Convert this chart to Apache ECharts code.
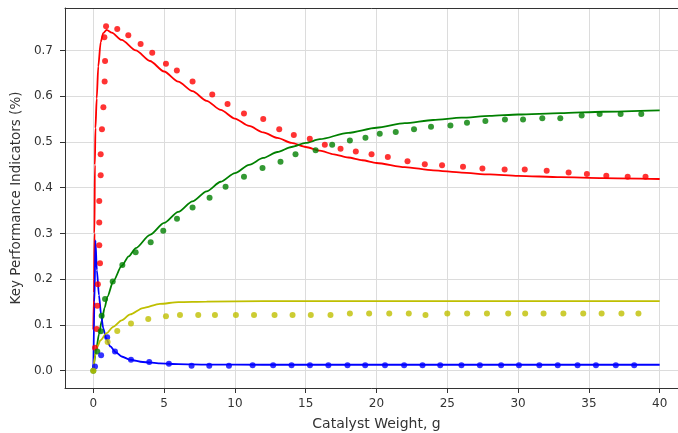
<!DOCTYPE html>
<html>
<head>
<meta charset="utf-8">
<script src="https://cdn.jsdelivr.net/npm/echarts@6/dist/echarts.min.js"></script>
<style>html,body{margin:0;padding:0;background:#fff;}#c{width:678px;height:433px;}</style>
</head>
<body>
<div id="c"></div>
<script>
const xTicks = [0, 5, 10, 15, 20, 25, 30, 35, 40];
const yTicks = [0.0, 0.1, 0.2, 0.3, 0.4, 0.5, 0.6, 0.7];

// Model curves [x, y]
const redLine = [[0,0.09],[0.05,0.17],[0.08,0.3],[0.11,0.45],[0.15,0.53],[0.24,0.595],[0.35,0.665],[0.52,0.718],[0.7,0.738],[0.94,0.745],[1.3,0.739],[2,0.723],[3,0.7],[4,0.677],[5,0.654],[6,0.632],[7,0.611],[8,0.59],[9,0.57],[10,0.551],[11,0.535],[12,0.521],[13,0.509],[14,0.498],[15,0.489],[16,0.481],[17,0.473],[18,0.466],[19,0.46],[20,0.454],[22,0.445],[24,0.438],[26,0.433],[28,0.429],[30,0.426],[33,0.423],[36,0.421],[40,0.419]];
const greenLine = [[0,0],[0.2,0.045],[0.4,0.08],[0.6,0.11],[0.8,0.138],[1.0,0.162],[1.4,0.195],[2,0.229],[2.5,0.25],[3,0.268],[4,0.297],[5,0.323],[6,0.347],[7,0.37],[8,0.392],[9,0.413],[10,0.432],[11,0.45],[12,0.465],[13,0.478],[14,0.489],[15,0.498],[16,0.506],[18,0.52],[20,0.531],[22,0.541],[24,0.548],[26,0.553],[28,0.557],[30,0.56],[33,0.563],[36,0.566],[40,0.569]];
const blueLine = [[0,0],[0.08,0.15],[0.15,0.285],[0.25,0.22],[0.4,0.165],[0.55,0.122],[0.7,0.093],[0.9,0.071],[1.2,0.053],[1.6,0.04],[2.0,0.031],[2.6,0.024],[3.5,0.019],[4.7,0.016],[6,0.0145],[8,0.0135],[12,0.013],[40,0.013]];
const oliveLine = [[0,0],[0.1,0.03],[0.25,0.05],[0.5,0.066],[0.94,0.082],[1.4,0.096],[2.0,0.11],[2.6,0.123],[3.5,0.137],[4.7,0.146],[6,0.15],[8,0.151],[12,0.152],[40,0.152]];

// Experimental points [x, y]
const redPts = [[0.12,0.05],[0.24,0.091],[0.28,0.142],[0.32,0.189],[0.47,0.235],[0.42,0.274],[0.42,0.324],[0.42,0.371],[0.52,0.427],[0.52,0.473],[0.61,0.528],[0.71,0.576],[0.8,0.632],[0.83,0.677],[0.78,0.729],[0.9,0.753],[1.69,0.747],[2.47,0.733],[3.34,0.714],[4.16,0.695],[5.13,0.671],[5.9,0.656],[7.01,0.632],[8.4,0.604],[9.48,0.583],[10.64,0.562],[12.0,0.55],[13.13,0.528],[14.16,0.515],[15.29,0.507],[16.35,0.494],[17.46,0.485],[18.54,0.479],[19.65,0.473],[20.8,0.467],[22.19,0.458],[23.41,0.451],[24.63,0.449],[26.11,0.446],[27.48,0.442],[29.05,0.44],[30.47,0.44],[32.02,0.437],[33.57,0.433],[34.86,0.43],[36.23,0.426],[37.74,0.424],[39.0,0.424]];
const greenPts = [[0,0],[0.28,0.042],[0.52,0.086],[0.59,0.12],[0.83,0.157],[1.37,0.195],[2.05,0.231],[2.99,0.259],[4.05,0.281],[4.94,0.306],[5.91,0.332],[7.01,0.357],[8.21,0.378],[9.34,0.402],[10.64,0.424],[11.95,0.443],[13.22,0.457],[14.28,0.473],[15.7,0.482],[16.87,0.494],[18.12,0.503],[19.22,0.509],[20.23,0.518],[21.36,0.522],[22.65,0.528],[23.85,0.533],[25.22,0.536],[26.39,0.542],[27.69,0.546],[29.07,0.549],[30.35,0.549],[31.71,0.552],[32.98,0.552],[34.49,0.558],[35.76,0.561],[37.24,0.561],[38.7,0.561]];
const bluePts = [[0.12,0.009],[0.55,0.034],[0.98,0.073],[1.53,0.042],[2.66,0.024],[3.95,0.019],[5.34,0.015],[6.94,0.011],[8.19,0.011],[9.58,0.011],[11.25,0.012],[12.7,0.012],[14.0,0.012],[15.3,0.012],[16.6,0.012],[17.95,0.012],[19.2,0.012],[20.6,0.012],[21.95,0.012],[23.25,0.012],[24.5,0.012],[26.0,0.012],[27.3,0.012],[28.8,0.012],[30.06,0.012],[31.5,0.012],[32.8,0.012],[34.2,0.012],[35.5,0.012],[36.9,0.012],[38.2,0.012]];
const olivePts = [[0,0],[1.01,0.063],[1.69,0.087],[2.66,0.103],[3.88,0.113],[5.13,0.119],[6.12,0.122],[7.41,0.122],[8.59,0.122],[10.07,0.122],[11.35,0.122],[12.8,0.122],[14.07,0.122],[15.36,0.122],[16.75,0.122],[18.12,0.125],[19.48,0.125],[20.9,0.125],[22.28,0.125],[23.46,0.122],[25.0,0.125],[26.4,0.125],[27.8,0.125],[29.3,0.125],[30.5,0.125],[31.8,0.125],[33.2,0.125],[34.6,0.125],[35.9,0.125],[37.3,0.125],[38.5,0.125]];

const RED = '#ff0000', GREEN = '#008000', BLUE = '#0000ff', OLIVE = '#bfbf00';
const FONT = 'DejaVu Sans';

function lineS(name, data, color) {
  return { name, type: 'line', data, showSymbol: false, symbol: 'none', smooth: 0.25, smoothMonotone: 'x',
    lineStyle: { color, width: 1.8 }, z: 2, animation: false };
}
function dotS(name, data, color) {
  return { name, type: 'scatter', data, symbol: 'circle', symbolSize: 6,
    itemStyle: { color }, z: 3, animation: false };
}

const chart = echarts.init(document.getElementById('c'), null, { renderer: 'canvas' });
chart.setOption({
  animation: false,
  backgroundColor: '#fff',
  grid: { left: 65, top: 8, width: 623, height: 380, containLabel: false, outerBoundsMode: 'none', show: false },
  xAxis: [{
    type: 'value', min: -2, max: 42, splitNumber: 9,
    name: 'Catalyst Weight, g', nameLocation: 'middle', nameGap: 29,
    nameTextStyle: { fontFamily: FONT, fontSize: 14, color: '#333' },
    axisLine: { show: true, onZero: false, lineStyle: { color: '#333', width: 1 } },
    axisTick: { show: true, inside: false, length: 5, lineStyle: { color: '#333' }, customValues: xTicks },
    axisLabel: { customValues: xTicks, fontFamily: FONT, fontSize: 12, color: '#333', margin: 10, formatter: v => String(v) },
    splitLine: { show: true, lineStyle: { color: '#dcdcdc', width: 1 } }
  }, {
    type: 'value', position: 'top', min: -2, max: 42,
    axisLine: { show: true, onZero: false, lineStyle: { color: '#333', width: 1 } },
    axisTick: { show: false }, axisLabel: { show: false }, splitLine: { show: false }
  }],
  yAxis: {
    type: 'value', min: -0.0378, max: 0.7928, splitNumber: 8,
    name: 'Key Performance Indicators (%)', nameLocation: 'middle', nameGap: 41, nameRotate: 90,
    nameTextStyle: { fontFamily: FONT, fontSize: 13.5, color: '#333' },
    axisLine: { show: true, onZero: false, lineStyle: { color: '#333', width: 1 } },
    axisTick: { show: true, inside: false, length: 5, lineStyle: { color: '#333' }, customValues: yTicks },
    axisLabel: { customValues: yTicks, fontFamily: FONT, fontSize: 12, color: '#333', margin: 12, formatter: v => v.toFixed(1) },
    splitLine: { show: true, lineStyle: { color: '#dcdcdc', width: 1 } }
  },
  series: [
    lineS('red', redLine, RED),
    lineS('green', greenLine, GREEN),
    lineS('blue', blueLine, BLUE),
    lineS('olive', oliveLine, OLIVE),
    dotS('redPts', redPts, RED),
    dotS('greenPts', greenPts, GREEN),
    dotS('bluePts', bluePts, BLUE),
    dotS('olivePts', olivePts, OLIVE)
  ]
});
</script>
</body>
</html>
